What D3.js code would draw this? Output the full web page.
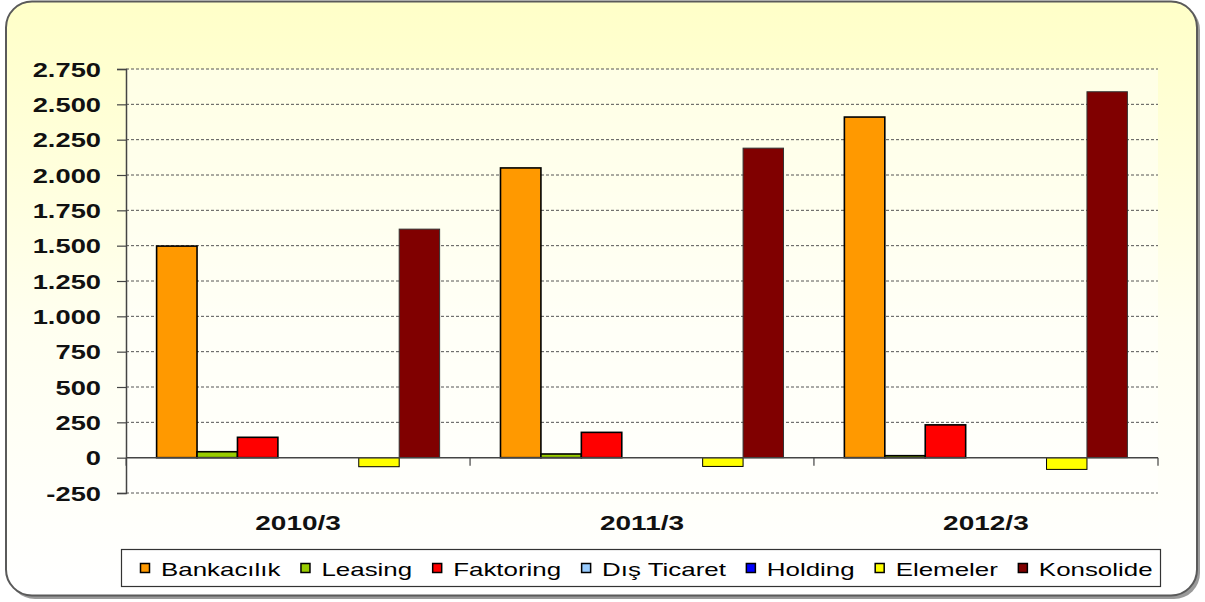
<!DOCTYPE html>
<html>
<head>
<meta charset="utf-8">
<script src="https://cdn.jsdelivr.net/npm/d3@7"></script>
<style>
  body { margin: 0; background: #fff; }
  svg { display: block; font-family: "Liberation Sans", Arial, sans-serif; }
</style>
</head>
<body>
<svg width="1205" height="602"></svg>
<script>
// veriler
const categories = ["2010/3", "2011/3", "2012/3"];
const seriesNames = ["Bankacılık", "Leasing", "Faktoring", "Dış Ticaret", "Holding", "Elemeler", "Konsolide"];
const seriesColors = ["#ff9900", "#99cc00", "#ff0000", "#99ccff", "#0000ff", "#ffff00", "#800000"];
const bankacilik = [1497, 2050, 2410];
const leasing = [42, 26, 14];
const faktoring = [144, 179, 232];
const disTicaret = [0, 0, 0];
const holding = [0, 0, 0];
const elemeler = [-64, -62, -83];
const konsolide = [1617, 2190, 2589];
const yTicks = [-250, 0, 250, 500, 750, 1000, 1250, 1500, 1750, 2000, 2250, 2500, 2750];

const seriesValues = [bankacilik, leasing, faktoring, disTicaret, holding, elemeler, konsolide];
const rows = [];
categories.forEach((c, i) => {
  seriesNames.forEach((s, j) => rows.push({ cat: c, series: s, value: seriesValues[j][i], color: seriesColors[j] }));
});

const svg = d3.select("svg");
const sx = 1.4; // metinler yatayda gerilmiş
const plot = { left: 126, right: 1158, top: 69, bottom: 493 };

// arka plan
const defs = svg.append("defs");
const grad = defs.append("linearGradient").attr("id", "bg").attr("x1", 0).attr("y1", 0).attr("x2", 0).attr("y2", 1);
grad.append("stop").attr("offset", "0%").attr("stop-color", "#ffffc8");
grad.append("stop").attr("offset", "55%").attr("stop-color", "#fffff0");
grad.append("stop").attr("offset", "100%").attr("stop-color", "#ffffff");

svg.append("rect")
  .attr("x", 9).attr("y", 4).attr("width", 1191).attr("height", 595)
  .attr("rx", 26).attr("fill", "#9a9a9a");
svg.append("rect")
  .attr("x", 6).attr("y", 1.5).attr("width", 1191).attr("height", 594)
  .attr("rx", 26).attr("fill", "url(#bg)").attr("stroke", "#5a5a5a").attr("stroke-width", 2);

svg.append("rect")
  .attr("x", plot.left).attr("y", plot.top)
  .attr("width", plot.right - plot.left).attr("height", plot.bottom - plot.top)
  .attr("fill", "#ffffff").attr("fill-opacity", 0.45);

// ölçekler
const x0 = d3.scaleBand()
  .domain(categories)
  .range([plot.left, plot.right])
  .paddingInner(0.177)
  .paddingOuter(0.089);

const x1 = d3.scaleBand()
  .domain(seriesNames)
  .range([0, x0.bandwidth()]);

const y = d3.scaleLinear()
  .domain([-250, 2750])
  .range([plot.bottom, plot.top]);

const tr = d3.formatLocale({ decimal: ",", thousands: ".", grouping: [3], currency: ["", " TL"], minus: "-" });
const fmt = tr.format(",d");

// ızgara çizgileri
svg.append("g")
  .selectAll("line")
  .data(yTicks.filter(d => d !== 0))
  .join("line")
  .attr("x1", plot.left).attr("x2", plot.right)
  .attr("y1", d => y(d)).attr("y2", d => y(d))
  .attr("stroke", "#555").attr("stroke-width", 1)
  .attr("stroke-dasharray", "3,2");

// y ekseni
const yAxis = svg.append("g")
  .attr("transform", `translate(${plot.left},0)`)
  .call(d3.axisLeft(y).tickValues(yTicks).tickSize(9).tickPadding(0).tickFormat(fmt));
yAxis.select(".domain").attr("stroke", "#444").attr("stroke-width", 1.5);
yAxis.selectAll(".tick line").attr("stroke", "#444").attr("stroke-width", 1.2);
yAxis.selectAll(".tick text")
  .attr("x", null).attr("dy", null)
  .attr("transform", `translate(-25,7) scale(${sx},1)`)
  .attr("text-anchor", "end")
  .attr("fill", "#111")
  .style("font-size", "19.5px")
  .style("font-weight", "bold")
  .style("font-family", "'Liberation Sans', Arial, sans-serif");

// çubuklar
svg.append("g")
  .selectAll("rect")
  .data(rows.filter(d => d.value !== 0))
  .join("rect")
  .attr("x", d => x0(d.cat) + x1(d.series))
  .attr("y", d => y(Math.max(0, d.value)))
  .attr("width", x1.bandwidth())
  .attr("height", d => Math.abs(y(d.value) - y(0)))
  .attr("fill", d => d.color)
  .attr("stroke", d => d.series === "Konsolide" ? "#333" : "#000")
  .attr("stroke-width", d => d.series === "Konsolide" || d.series === "Elemeler" ? 1 : 1.6);

// x ekseni (sıfır çizgisi)
const xTickPos = categories.map(c => x0(c) - x0.step() * x0.paddingInner() / 2).concat([plot.right]);
svg.append("line")
  .attr("x1", plot.left).attr("x2", plot.right)
  .attr("y1", y(0)).attr("y2", y(0))
  .attr("stroke", "#444").attr("stroke-width", 1.5);
svg.append("g")
  .selectAll("line")
  .data(xTickPos)
  .join("line")
  .attr("x1", d => d).attr("x2", d => d)
  .attr("y1", y(0)).attr("y2", y(0) + 8)
  .attr("stroke", "#444").attr("stroke-width", 1.2);

svg.append("g")
  .selectAll("text")
  .data(categories)
  .join("text")
  .attr("transform", d => `translate(${x0(d) + x0.bandwidth() / 2},530) scale(${sx},1)`)
  .attr("text-anchor", "middle")
  .attr("fill", "#111")
  .style("font-size", "20px")
  .style("font-weight", "bold")
  .text(d => d);

// lejant
const legend = svg.append("g");
legend.append("rect")
  .attr("x", 121.5).attr("y", 549.5).attr("width", 1039).attr("height", 37)
  .attr("fill", "#fff").attr("stroke", "#333").attr("stroke-width", 1.2);

let lx = 140;
seriesNames.forEach((s, i) => {
  const item = legend.append("g");
  item.append("rect")
    .attr("x", lx + 0.5).attr("y", 563.5).attr("width", 9).attr("height", 9)
    .attr("fill", seriesColors[i]).attr("stroke", "#000").attr("stroke-width", 1.5);
  const t = item.append("text")
    .attr("transform", `translate(${lx + 21},576) scale(${sx},1)`)
    .attr("fill", "#000")
    .style("font-size", "18.5px")
    .text(s);
  const w = t.node().getComputedTextLength() * sx;
  lx += 21 + w + 20;
});
</script>
</body>
</html>
